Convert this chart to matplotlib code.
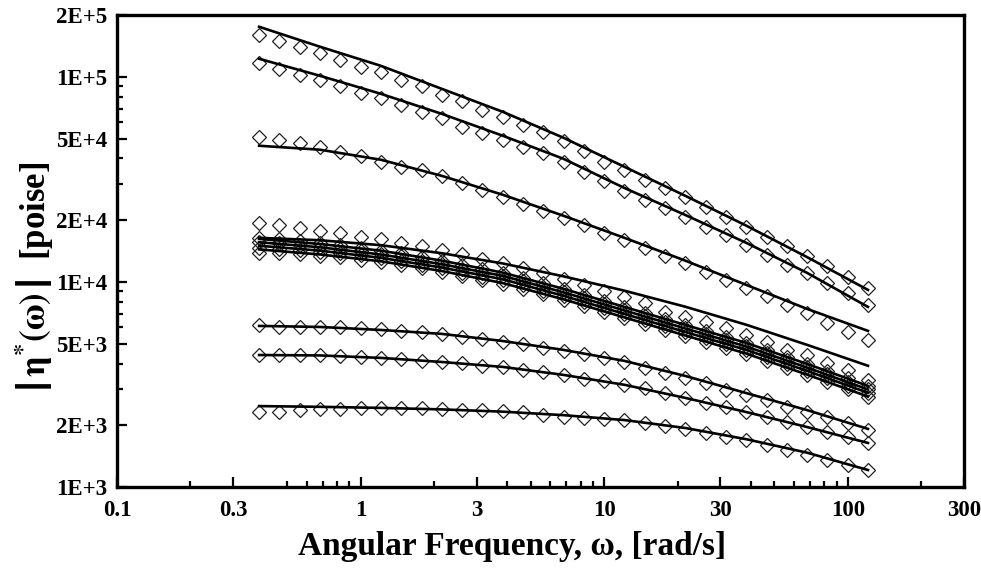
import matplotlib
matplotlib.use("Agg")
import matplotlib.pyplot as plt
from matplotlib.ticker import FixedLocator, FixedFormatter, NullFormatter

plt.rcParams['font.family'] = ['Liberation Serif', 'DejaVu Serif']
plt.rcParams['font.weight'] = 'bold'
plt.rcParams['mathtext.fontset'] = 'stix'

# frequency sweep (rad/s) of the measured points
freq = [0.383, 0.464, 0.562, 0.681, 0.825, 1.0, 1.21, 1.47, 1.78, 2.15, 2.61,
        3.16, 3.83, 4.64, 5.62, 6.81, 8.25, 10.0, 12.1, 14.7, 17.8, 21.5, 26.1,
        31.6, 38.3, 46.4, 56.2, 68.1, 82.5, 100.0, 121.0]
# frequencies where the model curves are evaluated
fit_freq = [0.383, 0.681, 1.21, 2.15, 3.83, 6.81, 12.1, 21.5, 38.3, 68.1, 121.0]

# measured |eta*| in poise
eta_a = [160000, 149000, 139000, 131000, 121000, 112000, 106000, 96700, 89700, 81700, 75800,
         69000, 64000, 58300, 53900, 48700, 43600, 38600, 35200, 31500, 28700, 25800, 23300,
         20800, 18600, 16600, 14900, 13300, 11900, 10600, 9350]
eta_b = [116700, 109000, 102300, 95900, 89700, 83300, 78700, 73000, 67700, 62900, 57200,
         53100, 49300, 45700, 42600, 38500, 34400, 30900, 27600, 25100, 22900, 20700, 18600,
         17000, 15200, 13500, 12100, 11000, 9860, 8840, 7720]
eta_c = [51100, 49300, 47800, 45700, 43200, 40900, 38600, 36500, 35200, 32900, 30400,
         28100, 26000, 24000, 22200, 20500, 18900, 17300, 16000, 14600, 13300, 12300, 11200,
         10200, 9350, 8500, 7720, 7040, 6290, 5720, 5210]
eta_g = [19300, 19000, 18300, 17800, 17300, 16600, 16200, 15500, 14900, 14300, 13700,
         12900, 12300, 11700, 11100, 10300, 9670, 9040, 8450, 7870, 7160, 6770, 6400,
         5940, 5510, 5110, 4660, 4410, 4010, 3720, 3330]
eta_m1 = [16400, 16150, 15800, 15450, 15100, 14650, 14200, 13800, 13200, 12700, 12100,
          11550, 11100, 10500, 9860, 9260, 8660, 8100, 7570, 7070, 6610, 6180, 5780,
          5410, 5050, 4660, 4310, 3990, 3690, 3390, 3120]
eta_m2 = [15600, 15400, 15100, 14800, 14500, 14100, 13700, 13300, 12700, 12200, 11600,
          11100, 10700, 10100, 9490, 8910, 8330, 7790, 7280, 6800, 6360, 5950, 5560,
          5200, 4860, 4490, 4150, 3840, 3550, 3260, 3000]
eta_m3 = [14700, 14500, 14250, 14000, 13800, 13450, 13100, 12700, 12150, 11700, 11100,
          10600, 10250, 9640, 9070, 8520, 7970, 7450, 6960, 6500, 6080, 5680, 5310,
          4970, 4640, 4290, 3970, 3670, 3390, 3120, 2870]
eta_m4 = [13900, 13800, 13600, 13350, 13150, 12850, 12550, 12150, 11650, 11200, 10650,
          10200, 9820, 9250, 8700, 8170, 7640, 7140, 6680, 6240, 5830, 5450, 5100,
          4770, 4450, 4110, 3810, 3520, 3250, 2990, 2750]
eta_d = [6170, 6050, 6050, 6010, 6010, 5940, 5880, 5790, 5680, 5560, 5410,
         5250, 5110, 4980, 4760, 4580, 4450, 4270, 4050, 3790, 3590, 3390, 3210,
         2970, 2810, 2660, 2460, 2330, 2200, 2050, 1900]
eta_e = [4400, 4400, 4400, 4400, 4360, 4320, 4240, 4200, 4120, 4060, 4010,
         3910, 3840, 3720, 3620, 3500, 3380, 3270, 3150, 3030, 2860, 2710, 2560,
         2460, 2330, 2200, 2080, 1970, 1860, 1760, 1630]
eta_f = [2330, 2330, 2370, 2390, 2390, 2420, 2420, 2420, 2420, 2390, 2370,
         2370, 2360, 2320, 2240, 2200, 2160, 2150, 2110, 2050, 1980, 1910, 1830,
         1760, 1700, 1600, 1520, 1430, 1350, 1280, 1210]

# model predictions at fit_freq
fit_a = [175300, 140100, 113100, 87400, 67500, 50400, 36400, 26300, 18800, 13200, 9140]
fit_b = [122400, 101100, 82600, 66000, 51600, 39800, 28700, 21200, 15500, 11060, 7550]
fit_c = [46100, 44100, 39400, 32900, 26600, 21000, 16400, 12700, 9670, 7380, 5770]
fit_g = [16400, 15960, 15100, 13800, 12300, 10640, 9060, 7570, 6180, 4930, 3900]
fit_m1 = [16200, 15300, 14200, 12700, 11100, 9250, 7550, 6170, 5040, 3980, 3110]
fit_m2 = [15600, 14750, 13600, 12200, 10700, 8890, 7260, 5930, 4840, 3820, 2990]
fit_m3 = [15000, 14200, 13100, 11750, 10300, 8550, 6980, 5700, 4660, 3680, 2880]
fit_m4 = [14400, 13600, 12600, 11300, 9870, 8220, 6710, 5480, 4470, 3530, 2760]
fit_d = [6100, 6030, 5830, 5580, 5150, 4660, 4120, 3480, 2870, 2370, 1920]
fit_e = [4400, 4380, 4260, 4070, 3850, 3520, 3150, 2720, 2320, 1960, 1640]
fit_f = [2480, 2460, 2430, 2390, 2330, 2240, 2120, 1940, 1710, 1470, 1210]

x_major = [0.1, 0.3, 1, 3, 10, 30, 100, 300]
x_major_labels = ['0.1', '0.3', '1', '3', '10', '30', '100', '300']
x_minor = [0.2, 0.5, 0.6, 0.7, 0.8, 0.9, 2, 4, 5, 6, 7, 8, 9,
           20, 40, 50, 60, 70, 80, 90, 200]
y_major = [1e3, 2e3, 5e3, 1e4, 2e4, 5e4, 1e5, 2e5]
y_major_labels = ['1E+3', '2E+3', '5E+3', '1E+4', '2E+4', '5E+4', '1E+5', '2E+5']
y_minor = [3e3, 4e3, 6e3, 7e3, 8e3, 9e3, 3e4, 4e4, 6e4, 7e4, 8e4, 9e4]

measured = [eta_a, eta_b, eta_c, eta_g, eta_m1, eta_m2, eta_m3, eta_m4, eta_d, eta_e, eta_f]
fitted = [fit_a, fit_b, fit_c, fit_g, fit_m1, fit_m2, fit_m3, fit_m4, fit_d, fit_e, fit_f]

fig = plt.figure(figsize=(9.81, 5.71), dpi=100)
ax = fig.add_axes([0.1193, 0.1471, 0.8634, 0.8266])

for eta in measured:
    ax.plot(freq, eta, linestyle='none', marker='D', markersize=7.6,
            markerfacecolor='none', markeredgecolor='#222222', markeredgewidth=0.9, zorder=2)
for fit in fitted:
    ax.plot(fit_freq, fit, color='black', linewidth=1.9, zorder=3)

ax.set_xscale('log')
ax.set_yscale('log')
ax.set_xlim(0.1, 300)
ax.set_ylim(1e3, 2e5)

ax.xaxis.set_major_locator(FixedLocator(x_major))
ax.xaxis.set_major_formatter(FixedFormatter(x_major_labels))
ax.xaxis.set_minor_locator(FixedLocator(x_minor))
ax.xaxis.set_minor_formatter(NullFormatter())
ax.yaxis.set_major_locator(FixedLocator(y_major))
ax.yaxis.set_major_formatter(FixedFormatter(y_major_labels))
ax.yaxis.set_minor_locator(FixedLocator(y_minor))
ax.yaxis.set_minor_formatter(NullFormatter())

ax.tick_params(which='both', direction='in', top=False, right=False, width=1.6)
ax.tick_params(which='major', length=7, labelsize=16.5)
ax.tick_params(which='minor', length=4)
ax.tick_params(axis='x', which='major', pad=9)
ax.tick_params(axis='y', which='major', pad=7)
for lab in ax.get_xticklabels() + ax.get_yticklabels():
    lab.set_fontweight('bold')

for side in ax.spines.values():
    side.set_linewidth(2.4)

fig.text(512 / 981, 1 - 546 / 571, 'Angular Frequency, \u03c9, [rad/s]',
         ha='center', va='center', fontsize=24, fontweight='bold')
fig.text(34 / 981, 1 - 277 / 571, r'$\left|\,\mathrm{\eta^{*}(\omega)}\,\right|$  [poise]',
         ha='center', va='center', rotation=90, fontsize=25, fontweight='bold')

fig.savefig('out.png', dpi=100)
